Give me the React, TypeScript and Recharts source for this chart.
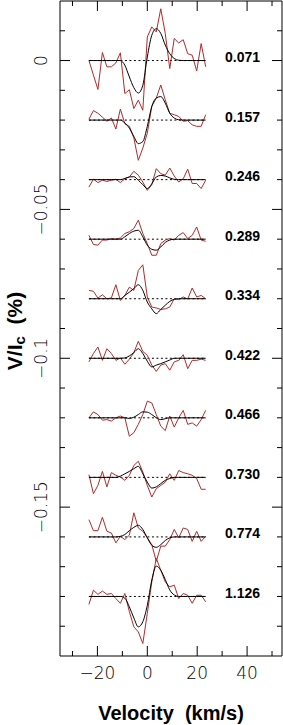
import React from "react"
import { LineChart, Line, XAxis, YAxis, ReferenceDot, Customized } from "recharts"

// velocity grid of the observed profiles (km/s)
const velocity = [-23.4, -21.6, -19.8, -18, -16.2, -14.4, -12.6, -10.8, -9, -7.2, -5.4, -3.6, -1.8, 0, 1.8, 3.6, 5.4, 7.2, 9, 10.8, 12.6, 14.4, 16.2, 18, 19.8, 21.6, 23.4]

const phases = ["0.071", "0.157", "0.246", "0.289", "0.334", "0.422", "0.466", "0.730", "0.774", "1.126"]
const baselines = [0, -0.02, -0.04, -0.06, -0.08, -0.1, -0.12, -0.14, -0.16, -0.18]

// observed Stokes V (red), relative to each baseline
const obs1 = [0, -0.0049, -0.0097, 0.0027, -0.0021, -0.0021, -0.0008, 0.0026, -0.0111, -0.0098, -0.0161, -0.0133, -0.0167, 0.0079, 0.0113, 0.0096, 0.0174, 0.0091, -0.0027, 0.0074, 0.0059, 0.007, 0.0023, 0.0018, -0.0035, 0.0057, -0.0021]
const obs2 = [0.0003, 0.0032, 0.0023, 0.001, -0.0004, 0.0007, -0.003, 0.0037, -0.0012, -0.0021, -0.006, -0.0135, -0.0094, -0.0044, 0.0046, 0.0074, 0.0118, 0.0068, 0.0023, 0.0018, 0.0012, -0.0004, -0.0002, -0.0016, -0.0021, -0.0021, 0.0018]
const obs3 = [-0.0025, 0.0002, -0.001, -0.0002, -0.0006, -0.0002, 0.0001, -0.001, 0.0003, 0.0009, 0.0028, 0.0015, -0.0008, -0.0036, -0.0017, 0.0037, 0.002, 0.0015, 0.0039, 0.0012, -0.0008, 0.0003, 0.0035, -0.0013, -0.0013, -0.003, -0.0002]
const obs4 = [0.0013, -0.0018, -0.002, -0.0003, -0.0003, 0.0002, 0, 0.0004, 0.0019, 0.0025, 0.0036, 0.0064, 0.0019, -0.0015, -0.0054, -0.0054, -0.0015, -0.0003, 0.0002, -0.0003, 0.0013, 0.0022, 0.0002, 0.0013, 0.0041, -0.0003, -0.0007]
const obs5 = [0.0028, 0.0025, 0.0002, 0.0013, 0, 0.0003, 0.0047, -0.0006, 0.0011, 0.0039, 0.0028, 0.0095, 0.0114, 0.0006, -0.0028, -0.0031, -0.0036, -0.0034, -0.0028, 0, -0.0003, 0.0006, -0.0001, 0.0036, 0.0006, 0.0011, 0]
const obs6 = [-0.0012, 0.0016, 0.0038, -0.0007, 0.0032, 0.0016, -0.0007, 0.0001, -0.002, -0.0003, 0.0019, 0.0057, 0.0023, 0.001, -0.0023, -0.0044, -0.0023, -0.0018, -0.004, -0.0012, -0.0007, 0.0012, -0.0035, -0.0007, -0.0007, -0.0003, -0.0007]
const obs7 = [0, 0.002, 0.0011, -0.0008, -0.0006, -0.0011, 0, 0.0006, 0, -0.0062, -0.005, -0.0022, 0.0011, 0.0056, 0.005, 0.0011, -0.0028, -0.0043, 0.0006, -0.0031, 0, 0.0025, -0.0022, -0.0017, -0.0028, -0.0006, 0.0025]
const obs8 = [0.0009, -0.0055, -0.0027, 0.002, -0.0032, 0.0016, 0.0007, 0.0001, -0.001, 0.0007, 0.004, 0.0054, 0.0018, -0.0027, -0.0066, -0.0038, -0.0027, -0.0016, 0.0012, -0.001, 0.0023, 0.0016, 0.0012, 0.0007, -0.0004, -0.004, -0.004]
const obs9 = [0.0058, 0.0021, 0.0021, 0.0066, 0.0019, 0.0013, -0.002, 0.0002, -0.0009, 0.0006, 0.0081, 0.003, 0.0019, -0.0003, -0.0026, -0.0082, -0.0031, -0.0031, -0.0009, 0.0025, -0.0003, 0.003, 0.0025, -0.0015, 0.0019, -0.0015, 0.0002]
const obs10 = [-0.0027, 0.0021, 0.0007, 0.0018, 0.0007, 0.001, -0.0007, -0.0023, 0.001, -0.0051, -0.0102, -0.0119, -0.0158, -0.0057, 0.0049, 0.0128, 0.0088, 0.0049, 0.0032, 0.0038, -0.0007, 0.001, 0.0004, -0.0023, 0.0004, 0.0004, -0.0018]

// model fits (black)
const mod1 = [0, 0, 0, 0, 0, 0, 0, 0, -0.0016, -0.0055, -0.0091, -0.0109, -0.0083, 0.0012, 0.0085, 0.0107, 0.0091, 0.0052, 0.0023, 0.0007, 0.0001, 0, 0, 0, 0, 0, 0]
const mod2 = [0, 0, 0, 0, 0, 0, 0, 0, -0.001, -0.0027, -0.0055, -0.0079, -0.0072, -0.0021, 0.0046, 0.0074, 0.0079, 0.0057, 0.0023, 0.0007, 0.0001, 0, 0, 0, 0, 0, 0]
const mod3 = [0, 0, 0, 0, 0, 0, 0, 0, 0.0004, 0.0009, 0.001, -0.0002, -0.0017, -0.003, -0.0014, 0.0009, 0.0014, 0.0012, 0.0006, 0.0001, 0, 0, 0, 0, 0, 0, 0]
const mod4 = [0, 0, 0, 0, 0, 0, 0, 0, 0.0008, 0.0019, 0.0027, 0.003, 0.0008, -0.002, -0.0034, -0.0037, -0.0026, -0.0011, -0.0003, 0, 0, 0, 0, 0, 0, 0, 0]
const mod5 = [0, 0, 0, 0, 0, 0, 0, 0, 0.0011, 0.0022, 0.0034, 0.0047, 0.0028, -0.0011, -0.0034, -0.005, -0.0036, -0.0022, -0.0009, -0.0002, 0, 0, 0, 0, 0, 0, 0]
const mod6 = [0, 0, 0, 0, 0, 0, 0, 0, 0.0001, 0.0008, 0.0019, 0.0032, 0.0016, -0.001, -0.0029, -0.0023, -0.0018, -0.0012, -0.0006, 0, 0, 0, 0, 0, 0, 0, 0]
const mod7 = [0, 0, 0, 0, 0, 0, 0, 0, 0, -0.0002, 0.0002, 0.0011, 0.002, 0.0019, 0.0011, 0, -0.0006, -0.0003, 0, 0, 0, 0, 0, 0, 0, 0, 0]
const mod8 = [0, 0, 0, 0, 0, 0, 0, 0.0004, 0.0012, 0.002, 0.0029, 0.0037, 0.0012, -0.0016, -0.0036, -0.0032, -0.0021, -0.001, -0.0004, 0, 0, 0, 0, 0, 0, 0, 0]
const mod9 = [0, 0, 0, 0, 0, 0, 0, 0.0002, 0.0008, 0.0021, 0.0032, 0.0039, 0.0025, -0.0003, -0.0028, -0.0035, -0.0026, -0.0012, -0.0003, 0, 0, 0, 0, 0, 0, 0, 0]
const mod10 = [0, 0, 0, 0, 0, 0, 0, 0, -0.0006, -0.0035, -0.0072, -0.0102, -0.0085, -0.003, 0.0055, 0.0102, 0.0088, 0.0057, 0.0022, 0.0005, 0, 0, 0, 0, 0, 0, 0]

const observed = [obs1, obs2, obs3, obs4, obs5, obs6, obs7, obs8, obs9, obs10]
const models = [mod1, mod2, mod3, mod4, mod5, mod6, mod7, mod8, mod9, mod10]

const xTicks = [-30, -20, -10, 0, 10, 20, 30, 40, 50]
const xLabelled = [-20, 0, 20, 40]
const yTicks = [0.01, 0, -0.01, -0.02, -0.03, -0.04, -0.05, -0.06, -0.07, -0.08, -0.09, -0.1, -0.11, -0.12, -0.13, -0.14, -0.15, -0.16, -0.17, -0.18, -0.19]
const yLabelled = [0, -0.05, -0.1, -0.15]

const RED = "#b22a2a"
const tickFont = "'DejaVu Sans', sans-serif"
const boldFont = "'Liberation Sans', Arial, sans-serif"

const isMajor = (list: number[], v: number) => list.some((m) => Math.abs(m - v) < 1e-6)
const fmt = (v: number) => (v < 0 ? "\u2212" + String(-v) : String(v))

const BottomTick = (props: any) => {
  const { x, y, payload } = props
  const major = isMajor(xLabelled, payload.value)
  return (
    <g>
      <line x1={x} x2={x} y1={y} y2={y - (major ? 10 : 5)} stroke="#000" />
      {major && (
        <text x={x} y={y + 17} textAnchor="middle" dominantBaseline="central" fontSize={17} fontWeight={200} fontFamily={tickFont} fill="#000">
          {fmt(payload.value)}
        </text>
      )}
    </g>
  )
}

const TopTick = (props: any) => {
  const { x, y, payload } = props
  const major = isMajor(xLabelled, payload.value)
  return <line x1={x} x2={x} y1={y} y2={y + (major ? 10 : 5)} stroke="#000" />
}

const LeftTick = (props: any) => {
  const { x, y, payload } = props
  const major = isMajor(yLabelled, payload.value)
  return (
    <g>
      <line x1={x} x2={x + (major ? 10 : 5)} y1={y} y2={y} stroke="#000" />
      {major && (
        <text x={41.5} y={y} transform={`rotate(-90 41.5 ${y})`} textAnchor="middle" dominantBaseline="central" fontSize={17} fontWeight={200} fontFamily={tickFont} fill="#000">
          {fmt(payload.value)}
        </text>
      )}
    </g>
  )
}

const RightTick = (props: any) => {
  const { x, y, payload } = props
  const major = isMajor(yLabelled, payload.value)
  return <line x1={x} x2={x - (major ? 10 : 5)} y1={y} y2={y} stroke="#000" />
}

const Titles = () => (
  <g>
    <text x={171} y={713} textAnchor="middle" dominantBaseline="central" fontSize={20} fontWeight="bold" fontFamily={boldFont} fill="#000" xmlSpace="preserve">
      Velocity  (km/s)
    </text>
    <text x={14} y={331} transform="rotate(-90 14 331)" textAnchor="middle" dominantBaseline="central" fontSize={21} fontWeight="bold" fontFamily={boldFont} fill="#000" xmlSpace="preserve">
      V/I<tspan fontSize={15} dy={5}>c</tspan><tspan dy={-5}>  (%)</tspan>
    </text>
  </g>
)

export default function App() {
  const profiles = phases.map((phase, i) => {
    const base = baselines[i]
    return {
      phase,
      base,
      obs: velocity.map((v, k) => ({ v, y: base + observed[i][k] })),
      model: velocity.map((v, k) => ({ v, y: base + models[i][k] })),
      zero: [
        { v: velocity[0], y: base },
        { v: velocity[velocity.length - 1], y: base },
      ],
    }
  })

  return (
    <div style={{ position: "absolute", left: 0, top: 0, background: "#fff" }}>
      <LineChart width={283} height={725} margin={{ top: 0, right: 0, bottom: 68, left: 59 }}>
        <XAxis xAxisId="x" dataKey="v" type="number" domain={[-35, 54]} allowDataOverflow ticks={xTicks} interval={0} orientation="bottom" height={1} tickSize={0} tickMargin={0} tick={<BottomTick />} axisLine={{ stroke: "#000" }} tickLine={false} />
        <XAxis xAxisId="top" dataKey="v" type="number" domain={[-35, 54]} allowDataOverflow ticks={xTicks} interval={0} orientation="top" height={1} tickSize={0} tickMargin={0} tick={<TopTick />} axisLine={{ stroke: "#000" }} tickLine={false} />
        <YAxis yAxisId="y" type="number" domain={[-0.2, 0.02]} allowDataOverflow ticks={yTicks} orientation="left" width={1} tickSize={0} tickMargin={0} tick={<LeftTick />} axisLine={{ stroke: "#000" }} tickLine={false} interval={0} />
        <YAxis yAxisId="right" type="number" domain={[-0.2, 0.02]} allowDataOverflow ticks={yTicks} orientation="right" width={1} tickSize={0} tickMargin={0} tick={<RightTick />} axisLine={{ stroke: "#000" }} tickLine={false} interval={0} />
        {profiles.map((p) => (
          <Line key={"z" + p.phase} data={p.zero} xAxisId="x" yAxisId="y" dataKey="y" type="linear" stroke="#000" strokeWidth={1} strokeDasharray="2 2.5" dot={false} isAnimationActive={false} />
        ))}
        {profiles.map((p) => (
          <Line key={"o" + p.phase} data={p.obs} xAxisId="x" yAxisId="y" dataKey="y" type="linear" stroke={RED} strokeWidth={1} dot={false} isAnimationActive={false} />
        ))}
        {profiles.map((p) => (
          <Line key={"m" + p.phase} data={p.model} xAxisId="x" yAxisId="y" dataKey="y" type="monotone" stroke="#000" strokeWidth={1} dot={false} isAnimationActive={false} />
        ))}
        {/* keep the top / right frame axes populated */}
        <Line data={profiles[0].zero} xAxisId="top" yAxisId="right" dataKey="y" stroke="none" dot={false} isAnimationActive={false} />
        {profiles.map((p) => (
          <ReferenceDot
            key={"l" + p.phase}
            xAxisId="x"
            yAxisId="y"
            x={38.2}
            y={p.base + 0.0012}
            r={0}
            shape={(s: any) => (
              <text x={s.cx} y={s.cy} textAnchor="middle" dominantBaseline="central" fontSize={14} fontWeight="bold" fontFamily={boldFont} fill="#000">
                {p.phase}
              </text>
            )}
          />
        ))}
        <Customized component={<Titles />} />
      </LineChart>
    </div>
  )
}
